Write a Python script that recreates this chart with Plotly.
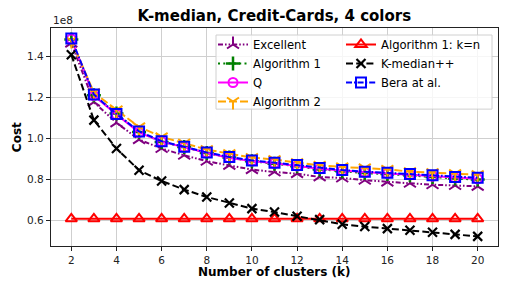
import plotly.graph_objects as go

# number of clusters
k_values = list(range(2, 21))

# Cost values in units of 1e8
excellent = [1.467, 1.178, 1.077, 0.995, 0.951, 0.918, 0.889, 0.869, 0.848, 0.836,
             0.828, 0.812, 0.807, 0.796, 0.787, 0.781, 0.774, 0.770, 0.766]
algorithm1 = [1.485, 1.212, 1.122, 1.032, 0.983, 0.959, 0.929, 0.907, 0.889, 0.877,
              0.864, 0.849, 0.840, 0.831, 0.826, 0.820, 0.812, 0.804, 0.799]
q_values = [1.487, 1.210, 1.118, 1.030, 0.985, 0.957, 0.930, 0.905, 0.890, 0.879,
            0.866, 0.852, 0.843, 0.835, 0.829, 0.823, 0.816, 0.808, 0.803]
algorithm2 = [1.480, 1.225, 1.140, 1.057, 1.008, 0.978, 0.946, 0.926, 0.907, 0.897,
              0.882, 0.869, 0.861, 0.856, 0.849, 0.838, 0.833, 0.828, 0.823]
algorithm1_kn = [0.607, 0.607, 0.607, 0.607, 0.607, 0.607, 0.607, 0.607, 0.607, 0.607,
                 0.607, 0.607, 0.607, 0.607, 0.607, 0.607, 0.607, 0.607, 0.607]
kmedian_pp = [1.410, 1.090, 0.951, 0.845, 0.792, 0.750, 0.714, 0.684, 0.657, 0.640,
              0.620, 0.603, 0.580, 0.569, 0.559, 0.551, 0.541, 0.531, 0.521]
bera = [1.490, 1.215, 1.120, 1.035, 0.987, 0.960, 0.932, 0.910, 0.893, 0.882,
        0.870, 0.856, 0.846, 0.838, 0.832, 0.826, 0.820, 0.812, 0.808]

x_ticks = [2, 4, 6, 8, 10, 12, 14, 16, 18, 20]
y_ticks = [0.6, 0.8, 1.0, 1.2, 1.4]

FONT = "DejaVu Sans"

series = [
    dict(name="Excellent", y=excellent, color="purple", dash="5px,2px,1.6px,2px,1.6px,2px",
         symbol="y-up", msize=10, mlw=2, legend="legend"),
    dict(name="Algorithm 1", y=algorithm1, color="green", dash="2px,3.3px",
         symbol="cross-thin", msize=10, mlw=2.5, legend="legend"),
    dict(name="Q", y=q_values, color="#ff00ff", dash="solid",
         symbol="circle-open", msize=9, mlw=2, legend="legend"),
    dict(name="Algorithm 2", y=algorithm2, color="orange", dash="8px,3px",
         symbol="y-down", msize=10, mlw=2, legend="legend"),
    dict(name="Algorithm 1: k=n", y=algorithm1_kn, color="red", dash="solid",
         symbol="triangle-up-open", msize=10, mlw=2, legend="legend2"),
    dict(name="K-median++", y=kmedian_pp, color="black", dash="7px,3.2px",
         symbol="x-thin", msize=9, mlw=2.2, legend="legend2"),
    dict(name="Bera at al.", y=bera, color="blue", dash="6px,2px,1.6px,2px",
         symbol="square-open", msize=10, mlw=2, legend="legend2"),
]

fig = go.Figure()
for s in series:
    fig.add_trace(go.Scatter(
        x=k_values, y=s["y"], name=s["name"], mode="lines+markers",
        line=dict(color=s["color"], width=2, dash=s["dash"]),
        marker=dict(symbol=s["symbol"], size=s["msize"], color=s["color"],
                    line=dict(color=s["color"], width=s["mlw"])),
        legend=s["legend"],
    ))

axis_common = dict(
    showgrid=True, gridcolor="#cfcfcf", gridwidth=1,
    showline=True, linecolor="#222222", linewidth=1.2, mirror=True,
    ticks="outside", ticklen=4, tickwidth=1, tickcolor="#222222",
    tickfont=dict(family=FONT, size=10.5, color="#222222"),
    zeroline=False, automargin=False,
)

PW, PH = 447.0, 217.7  # plot area size in px
L, T = 51.0, 28.0

def px_to_paper(xp, yp):
    return (xp - L) / PW, (T + PH - yp) / PH

lg_x1, lg_y = px_to_paper(213, 30)
lg_x2, _ = px_to_paper(341, 30)
bx0, by0 = px_to_paper(216, 109)
bx1, by1 = px_to_paper(492, 35)
cx, cy = px_to_paper(17, 137)
tx, ty = px_to_paper(274, 272)

fig.update_layout(
    width=509, height=291,
    margin=dict(l=51, r=11, t=28, b=45.3),
    paper_bgcolor="white", plot_bgcolor="white",
    title=dict(text="<b>K-median, Credit-Cards, 4 colors</b>",
               font=dict(family=FONT, size=15, color="black"),
               x=0.539, xanchor="center", y=0.945, yanchor="middle"),
    xaxis=dict(range=[1.1, 20.9], tickvals=x_ticks, **axis_common),
    yaxis=dict(range=[0.474, 1.541], tickvals=y_ticks, tickformat=".1f", **axis_common),
    legend=dict(x=lg_x1, y=lg_y, xanchor="left", yanchor="top",
                bgcolor="rgba(0,0,0,0)", borderwidth=0,
                font=dict(family=FONT, size=11.6, color="black"),
                tracegroupgap=0),
    legend2=dict(x=lg_x2, y=lg_y, xanchor="left", yanchor="top",
                 bgcolor="rgba(0,0,0,0)", borderwidth=0,
                 font=dict(family=FONT, size=11.6, color="black"),
                 tracegroupgap=0),
    shapes=[dict(type="rect", xref="paper", yref="paper",
                 x0=bx0, x1=bx1, y0=by0, y1=by1,
                 line=dict(color="#d0d0d0", width=1),
                 fillcolor="rgba(255,255,255,0.8)", layer="above")],
    annotations=[
        dict(text="1e8", xref="paper", yref="paper", x=0, y=1.0,
             xanchor="left", yanchor="bottom", showarrow=False,
             font=dict(family=FONT, size=10.5, color="#222222")),
        dict(text="<b>Cost</b>", xref="paper", yref="paper", x=cx, y=cy,
             xanchor="center", yanchor="middle", showarrow=False, textangle=-90,
             font=dict(family=FONT, size=12, color="black")),
        dict(text="<b>Number of clusters (k)</b>", xref="paper", yref="paper", x=tx, y=ty,
             xanchor="center", yanchor="middle", showarrow=False,
             font=dict(family=FONT, size=12, color="black")),
    ],
)

fig.write_html("out.html", config={"displayModeBar": False},
               post_script="document.body.style.margin='0';document.body.style.overflow='hidden';")
